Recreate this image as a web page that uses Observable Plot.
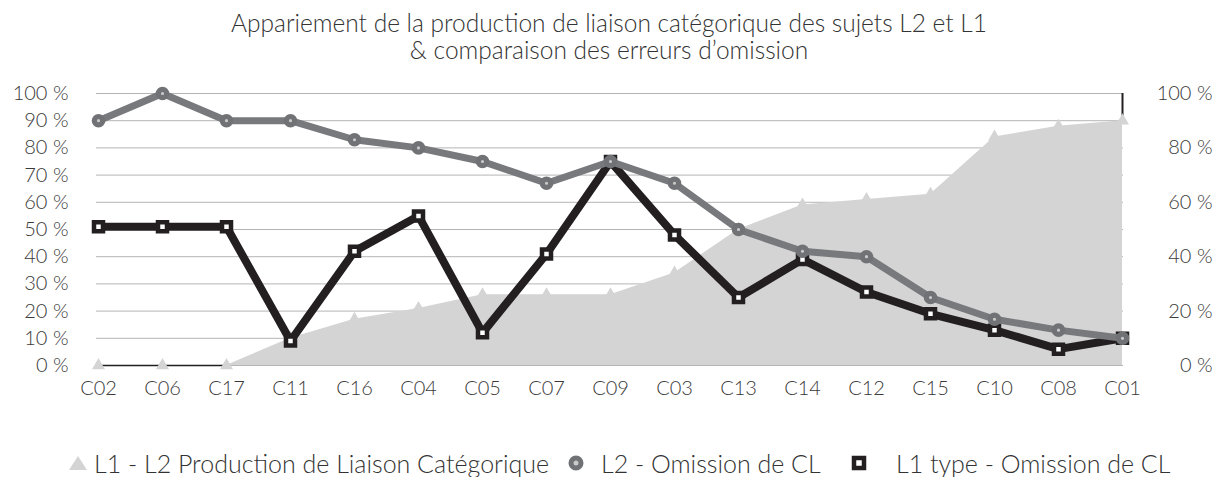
<!DOCTYPE html>
<html><head><meta charset="utf-8">
<script src="https://cdn.jsdelivr.net/npm/d3@7"></script>
<script src="https://cdn.jsdelivr.net/npm/@observablehq/plot@0.6"></script>
<style>
html,body{margin:0;padding:0;background:#fff;}
body{width:1218px;height:477px;overflow:hidden;font-family:Lato,"Open Sans",sans-serif;font-weight:300;color:#333;}
#title{height:70px;box-sizing:border-box;padding-top:9px;text-align:center;font-size:24.5px;line-height:27px;}
#chart{height:340px;}
#legend{position:relative;height:67px;font-size:25px;}
.item{position:absolute;top:38px;height:30px;line-height:30px;white-space:nowrap;}
.icon{position:absolute;top:38px;height:30px;display:flex;align-items:center;}
</style></head><body>
<div id="title">Appariement de la production de liaison catégorique des sujets L2 et L1<br>&amp; comparaison des erreurs d’omission</div>
<div id="chart"></div>
<div id="legend"></div>
<script>
const categories = ["C02","C06","C17","C11","C16","C04","C05","C07","C09","C03","C13","C14","C12","C15","C10","C08","C01"];
const productionL1L2 = [0,0,0,10,17,21,26,26,26,34,50,59,61,63,84,88,90];
const omissionL2 = [90,100,90,90,83,80,75,67,75,67,50,42,40,25,17,13,10];
const omissionL1 = [51,51,51,9,42,55,12,41,75,48,25,39,27,19,13,6,10];
const leftTicks = [0,10,20,30,40,50,60,70,80,90,100];
const rightTicks = [0,20,40,60,80,100];
const seriesNames = ["L1 - L2 Production de Liaison Catégorique","L2 - Omission de CL","L1 type - Omission de CL"];

const colArea = "#d4d4d4", colL2 = "#77797c", colL1 = "#231f20";
const rows = categories.map((c,i)=>({cat:c, prod:productionL1L2[i], l2:omissionL2[i], l1:omissionL1[i]}));
const fmt = d => d + "\u00a0%";

const chart = Plot.plot({
  width:1218, height:340,
  marginTop:23, marginBottom:45, marginLeft:96, marginRight:95,
  style:{fontFamily:"Lato, 'Open Sans', sans-serif", fontSize:"20px", fontWeight:300, color:"#3a3a3a", background:"#fff"},
  x:{type:"point", domain:categories, padding:0, label:null},
  y:{domain:[0,100], label:null},
  marks:[
    Plot.gridY(leftTicks, {stroke:"#b5b5b5", strokeOpacity:1}),
    Plot.areaY(rows, {x:"cat", y:"prod", fill:colArea}),
    Plot.lineY(rows.filter(d=>d.prod===0), {x:"cat", y:"prod", stroke:colL1, strokeWidth:1.5}),
    Plot.ruleX(rows.slice(-1), {x:"cat", y1:"prod", y2:()=>100, stroke:colL1, strokeWidth:2}),
    Plot.dot(rows, {x:"cat", y:"prod", symbol:"triangle", r:4.8, fill:colArea}),
    Plot.lineY(rows, {x:"cat", y:"l1", stroke:colL1, strokeWidth:8}),
    Plot.dot(rows, {x:"cat", y:"l1", symbol:"square", r:5.08, fill:"#fff", stroke:colL1, strokeWidth:4.5}),
    Plot.lineY(rows, {x:"cat", y:"l2", stroke:colL2, strokeWidth:7}),
    Plot.dot(rows, {x:"cat", y:"l2", r:4.2, fill:"#c9c9c9", stroke:"#707275", strokeWidth:5.2}),
    Plot.axisY(leftTicks, {anchor:"left", tickSize:0, tickPadding:28, tickFormat:fmt, label:null}),
    Plot.axisY(rightTicks, {anchor:"right", tickSize:0, tickPadding:89, textAnchor:"end", tickFormat:fmt, label:null}),
    Plot.axisX({anchor:"bottom", tickSize:0, tickPadding:15, label:null})
  ]
});
document.getElementById("chart").appendChild(chart);

// legend
const legend = document.getElementById("legend");
const iconCenters = [78, 576, 859];
const textLefts = [94, 601, 896];
const icons = [
  `<svg width="20" height="20"><path d="M10 3 L19 17 L1 17 Z" fill="${colArea}"/></svg>`,
  `<svg width="20" height="20"><circle cx="10" cy="10" r="5" fill="#c9c9c9" stroke="#707275" stroke-width="5"/></svg>`,
  `<svg width="20" height="20"><rect x="5" y="5" width="10" height="10" fill="#fff" stroke="${colL1}" stroke-width="4.5"/></svg>`
];
seriesNames.forEach((n,i)=>{
  const ic = document.createElement("div");
  ic.className = "icon";
  ic.style.left = (iconCenters[i] - 10) + "px";
  ic.innerHTML = icons[i];
  legend.appendChild(ic);
  const d = document.createElement("div");
  d.className = "item";
  d.style.left = textLefts[i] + "px";
  d.textContent = n;
  legend.appendChild(d);
});
</script>
</body></html>
